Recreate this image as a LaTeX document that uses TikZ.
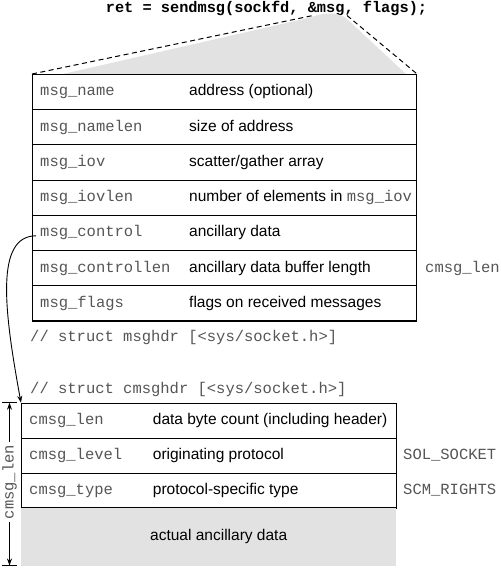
\documentclass[tikz,border=0pt]{standalone}
\usepackage{fontspec}
\setmainfont{Liberation Sans}
\setmonofont{Liberation Mono}
\usetikzlibrary{arrows.meta}
\definecolor{lightfill}{HTML}{E2E2E2}
\definecolor{codegray}{HTML}{555555}
\begin{document}
\begin{tikzpicture}[x=1pt,y=-1pt,
  cell/.style={draw, line width=1.1pt, anchor=north west, inner sep=0pt,
    minimum height=35.2pt, minimum width=384pt},
  bcell/.style={draw, line width=1.1pt, anchor=north west, inner sep=0pt,
    minimum height=34.9pt, minimum width=375pt},
  fld/.style={font=\fontsize{15.5}{18}\selectfont\ttfamily, text=codegray,
    anchor=base west, inner sep=0pt},
  desc/.style={font=\fontsize{15.5}{18}\selectfont, anchor=base west, inner sep=0pt},
  dashln/.style={line width=1pt, dash pattern=on 5pt off 3.5pt},
  arr/.style={line width=0.9pt, -{Stealth[length=7pt,width=5pt]}}
]
\useasboundingbox (0,0) rectangle (500,569);

% title
\node[font=\fontsize{15.3}{18}\selectfont\ttfamily\bfseries, anchor=base, inner sep=0pt]
  (call) at (266.5,12.5) {ret = sendmsg(sockfd, \&msg, flags);};

% wedge
\fill[lightfill] (63,74) -- (308,18) .. controls (322,13) and (336,11) .. (346,18) -- (406,74) -- cycle;

% msghdr table
\foreach \i/\y in {1/74,2/109.2,3/144.4,4/179.6,5/214.8,6/250,7/285.2}
  \node[cell] (r\i) at (32,\y) {};

\coordinate (ml) at (313,15.5);
\coordinate (mr) at (347,15.5);
\draw[dashln] (r1.north west) -- (ml);
\draw[dashln] (mr) -- (r1.north east);

\node[fld] (n1) at (40,96) {msg\_name};
\node[fld] (n2) at (40,131.2) {msg\_namelen};
\node[fld] (n3) at (40,166.4) {msg\_iov};
\node[fld] (n4) at (40,201.6) {msg\_iovlen};
\node[fld] (n5) at (40,236.8) {msg\_control};
\node[fld] (n6) at (40,272) {msg\_controllen};
\node[fld] (n7) at (40,307.2) {msg\_flags};

\node[desc] (d1) at (189,96) {address (optional)};
\node[desc] (d2) at (189,131.2) {size of address};
\node[desc] (d3) at (189,166.4) {scatter/gather array};
\node[desc] (d4) at (189,201.6) {number of elements in {\ttfamily\color{codegray}msg\_iov}};
\node[desc] (d5) at (189,236.8) {ancillary data};
\node[desc] (d6) at (189,272) {ancillary data buffer length};
\node[desc] (d7) at (189,307.2) {flags on received messages};

\node[fld] (cl1) at (425,272) {cmsg\_len};

\node[fld] (s1) at (30,341) {// struct msghdr [<sys/socket.h>]};
\node[fld] (s2) at (30,393.3) {// struct cmsghdr [<sys/socket.h>]};

% cmsghdr table
\node[bcell] (b1) at (21,402.7) {};
\node[bcell] (b2) at (21,437.6) {};
\node[bcell] (b3) at (21,472.5) {};
\node[fill=lightfill, anchor=north west, inner sep=0pt, minimum width=375pt, minimum height=57.6pt]
  (b4) at (21,508) {};

\node[fld] (c1) at (29,424.2) {cmsg\_len};
\node[fld] (c2) at (29,459.1) {cmsg\_level};
\node[fld] (c3) at (29,494) {cmsg\_type};
\node[desc] (e1) at (152.7,424.2) {data byte count (including header)};
\node[desc] (e2) at (152.7,459.1) {originating protocol};
\node[desc] (e3) at (152.7,494) {protocol-specific type};
\node[desc] (e4) at (150,540) {actual ancillary data};

\node[fld] (v2) at (403,459.3) {SOL\_SOCKET};
\node[fld] (v3) at (403,494) {SCM\_RIGHTS};

% dimension
\coordinate (dt) at (9.5,402.7);
\coordinate (db) at (9.5,565.5);
\draw[line width=0.9pt] (1.5,402.7) -- (17,402.7);
\draw[line width=0.9pt] (1.5,565.5) -- (17,565.5);
\node[font=\fontsize{15.5}{18}\selectfont\ttfamily, text=codegray, rotate=90,
  inner xsep=3pt, inner ysep=0pt] (dim) at (9.5,482) {cmsg\_len};
\draw[arr] (dim.east |- 0,442) -- (dt);
\draw[arr] (dim.west |- 0,522) -- (db);

% pointer arrow
\draw[arr] (n5.base west) ++(-4,-1) coordinate (p0)
  (p0) .. controls (-5,236) and (4,310) .. (b1.north west);
\end{tikzpicture}
\end{document}
